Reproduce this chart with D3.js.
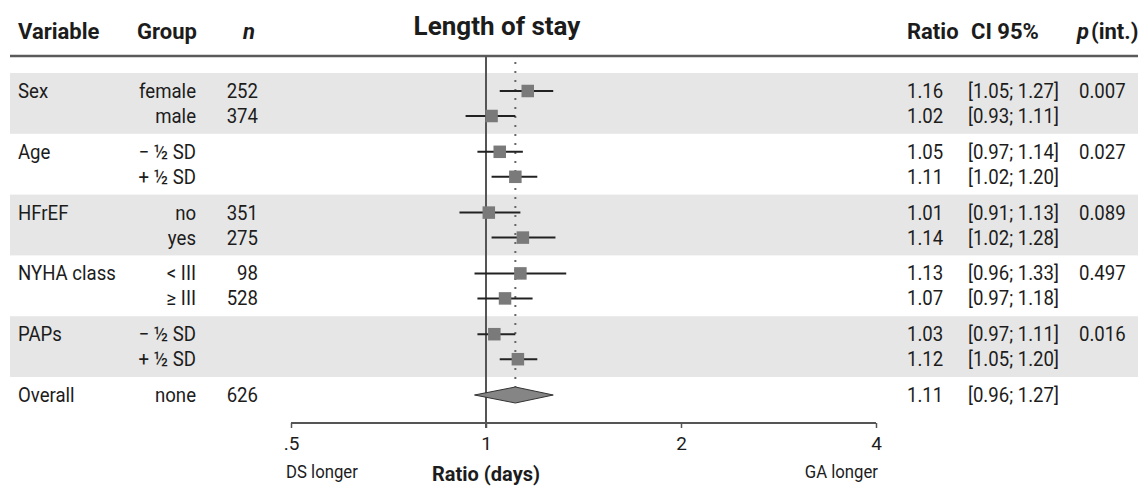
<!DOCTYPE html>
<html>
<head>
<meta charset="utf-8">
<script src="https://cdn.jsdelivr.net/npm/d3@7"></script>
<style>
  html, body { margin: 0; padding: 0; background: #fff; }
  svg text { font-family: Roboto, "Noto Sans", sans-serif; fill: #1c1c1c; }
</style>
</head>
<body>
<svg id="chart" width="1146" height="488"></svg>
<script>
// ---- data ----
const variables = ["Sex", "Age", "HFrEF", "NYHA class", "PAPs", "Overall"];
const rowVariable = ["Sex", "Sex", "Age", "Age", "HFrEF", "HFrEF", "NYHA class", "NYHA class", "PAPs", "PAPs", "Overall"];
const rowGroup = ["female", "male", "\u2212 \u00BD SD", "+ \u00BD SD", "no", "yes", "< III", "\u2265 III", "\u2212 \u00BD SD", "+ \u00BD SD", "none"];
const rowN = [252, 374, null, null, 351, 275, 98, 528, null, null, 626];
const ratio = [1.16, 1.02, 1.05, 1.11, 1.01, 1.14, 1.13, 1.07, 1.03, 1.12, 1.11];
const lower = [1.05, 0.93, 0.97, 1.02, 0.91, 1.02, 0.96, 0.97, 0.97, 1.05, 0.96];
const upper = [1.27, 1.11, 1.14, 1.20, 1.13, 1.28, 1.33, 1.18, 1.11, 1.20, 1.27];
const pInt = ["0.007", "0.027", "0.089", "0.497", "0.016", ""];
const tickValues = [0.5, 1, 2, 4];
const tickLabels = [".5", "1", "2", "4"];

// ---- build rows ----
const rows = rowVariable.map((v, i) => ({
  variable: v, group: rowGroup[i], n: rowN[i],
  ratio: ratio[i], lower: lower[i], upper: upper[i],
  sub: rowVariable.slice(0, i).filter(d => d === v).length,
  first: rowVariable.indexOf(v) === i
}));
const overallIdx = rows.length - 1;

const svg = d3.select("#chart");

// ---- scales ----
const x = d3.scaleLog().domain([0.5, 4]).range([291, 876]);
const yBand = d3.scaleBand().domain(variables).range([73, 73 + 60.8 * 6]).paddingInner(0).paddingOuter(0);
const ySub = d3.scalePoint().domain([0, 1]).range([18, 43]);
const yRow = r => yBand(r.variable) + ySub(r.sub);

// ---- shaded bands ----
svg.append("g").selectAll("rect")
  .data(variables.filter((v, i) => i % 2 === 0 && v !== "Overall"))
  .join("rect")
  .attr("x", 10).attr("width", 1128)
  .attr("y", d => yBand(d)).attr("height", yBand.bandwidth())
  .attr("fill", "#e6e6e6");

// ---- header ----
const headerY = 39;
const hdr = svg.append("g").attr("font-weight", "bold").attr("font-size", 22);
hdr.append("text").attr("x", 18).attr("y", headerY).text("Variable");
hdr.append("text").attr("x", 137).attr("y", headerY).text("Group");
hdr.append("text").attr("x", 249).attr("y", headerY).attr("text-anchor", "middle").attr("font-style", "italic").text("n");
hdr.append("text").attr("x", 907).attr("y", headerY).text("Ratio");
hdr.append("text").attr("x", 971).attr("y", headerY).text("CI 95%");
const pt = hdr.append("text").attr("x", 1077).attr("y", headerY);
pt.append("tspan").attr("font-style", "italic").text("p");
pt.append("tspan").attr("dx", 2).text("(int.)");
svg.append("text").attr("x", 497).attr("y", 35).attr("text-anchor", "middle")
  .attr("font-weight", "bold").attr("font-size", 26).text("Length of stay");

svg.append("line").attr("x1", 10).attr("x2", 1138).attr("y1", 56).attr("y2", 56)
  .attr("stroke", "#5a5a5a").attr("stroke-width", 2.5);

// ---- table text (slightly condensed) ----
const fs = 20, sx = 0.93;
const tbl = svg.append("g").attr("font-size", fs);
function place(sel, xPos) {
  sel.attr("transform", d => `translate(${xPos},${yRow(d)}) scale(${sx},1)`)
     .attr("dy", "0.35em");
}
tbl.selectAll("text.var").data(rows.filter(r => r.first)).join("text")
  .attr("class", "var").call(place, 18).text(d => d.variable);
tbl.selectAll("text.grp").data(rows).join("text")
  .attr("class", "grp").call(place, 196).attr("text-anchor", "end").text(d => d.group);
tbl.selectAll("text.n").data(rows.filter(r => r.n != null)).join("text")
  .attr("class", "n").call(place, 258).attr("text-anchor", "end").text(d => d.n);
tbl.selectAll("text.ratio").data(rows).join("text")
  .attr("class", "ratio").call(place, 907).text(d => d.ratio.toFixed(2));
tbl.selectAll("text.ci").data(rows).join("text")
  .attr("class", "ci").call(place, 968)
  .text(d => `[${d.lower.toFixed(2)}; ${d.upper.toFixed(2)}]`);
tbl.selectAll("text.p").data(rows.filter(r => r.first && r.variable !== "Overall")).join("text")
  .attr("class", "p").call(place, 1079)
  .text(d => pInt[variables.indexOf(d.variable)]);

// ---- reference lines ----
const overall = rows[overallIdx];
const axisY = 423;
svg.append("line").attr("x1", x(1)).attr("x2", x(1)).attr("y1", 56).attr("y2", axisY + 5)
  .attr("stroke", "#555").attr("stroke-width", 2);
svg.append("line").attr("x1", x(overall.ratio)).attr("x2", x(overall.ratio))
  .attr("y1", 62).attr("y2", yRow(overall) - 8)
  .attr("stroke", "#666").attr("stroke-width", 2).attr("stroke-dasharray", "2,7");

// ---- CI lines and squares ----
const sub = rows.filter((r, i) => i !== overallIdx);
svg.append("g").selectAll("line").data(sub).join("line")
  .attr("x1", d => x(d.lower)).attr("x2", d => x(d.upper))
  .attr("y1", yRow).attr("y2", yRow)
  .attr("stroke", "#222").attr("stroke-width", 2);
const sq = 12.5;
svg.append("g").selectAll("rect").data(sub).join("rect")
  .attr("x", d => x(d.ratio) - sq / 2).attr("y", d => yRow(d) - sq / 2)
  .attr("width", sq).attr("height", sq)
  .attr("fill", "#7a7a7a");

// ---- overall diamond ----
const oy = yRow(overall);
svg.append("path")
  .attr("d", `M${x(overall.lower)},${oy} L${x(overall.ratio)},${oy - 8} L${x(overall.upper)},${oy} L${x(overall.ratio)},${oy + 8} Z`)
  .attr("fill", "#858585").attr("stroke", "#333").attr("stroke-width", 1);

// ---- axis ----
const axis = d3.axisBottom(x).tickValues(tickValues).tickFormat((d, i) => tickLabels[i]).tickSize(5).tickPadding(9);
const ag = svg.append("g").attr("transform", `translate(0,${axisY})`).call(axis);
ag.select(".domain").attr("stroke", "#555").attr("stroke-width", 2)
  .attr("d", `M${x(0.5)},0H${x(4)}`);
ag.selectAll(".tick line").attr("stroke", "#555").attr("stroke-width", 1.5);
ag.selectAll(".tick text").attr("font-family", "Roboto, sans-serif").attr("font-size", 19).attr("fill", "#1c1c1c");

svg.append("text").attr("transform", "translate(286,478) scale(0.93,1)").attr("font-size", 18).text("DS longer");
svg.append("text").attr("transform", "translate(878,478) scale(0.93,1)").attr("font-size", 18).attr("text-anchor", "end").text("GA longer");
svg.append("text").attr("x", x(1)).attr("y", 481).attr("font-size", 20).attr("font-weight", "bold")
  .attr("text-anchor", "middle").text("Ratio (days)");
</script>
</body>
</html>
